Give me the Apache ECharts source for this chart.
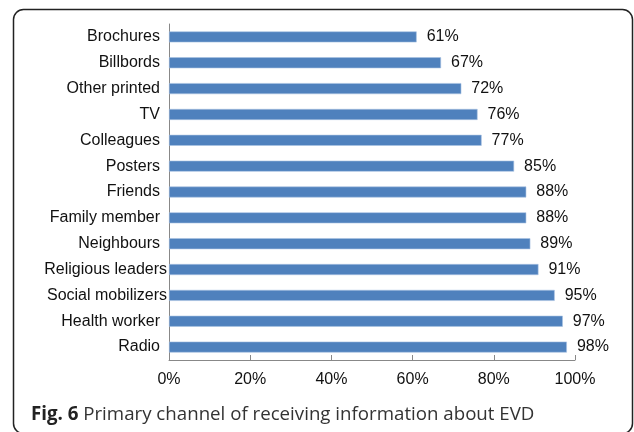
<!DOCTYPE html>
<html>
<head>
<meta charset="utf-8">
<script src="https://cdn.jsdelivr.net/npm/echarts@6/dist/echarts.min.js"></script>
<style>html,body{margin:0;padding:0;background:#fff;}#c{width:634px;height:432px;}</style>
</head>
<body>
<div id="c"></div>
<script>
const categories = ['Brochures','Billbords','Other printed','TV','Colleagues','Posters','Friends','Family member','Neighbours','Religious leaders','Social mobilizers','Health worker','Radio'];
const values = [61,67,72,76,77,85,88,88,89,91,95,97,98];
const xTicks = [0,20,40,60,80,100];
const longLabels = ['Religious leaders','Social mobilizers'];

const chart = echarts.init(document.getElementById('c'), null, {renderer:'canvas'});
chart.setOption({
  backgroundColor:'#fff',
  animation:false,
  grid:{left:169,right:59,top:24,bottom:72,containLabel:false},
  xAxis:{
    type:'value', min:xTicks[0], max:xTicks[xTicks.length-1], interval:xTicks[1]-xTicks[0],
    axisLine:{show:true,lineStyle:{color:'#888',width:1}},
    axisTick:{show:true,inside:true,length:5,lineStyle:{color:'#888'}},
    splitLine:{show:false},
    axisLabel:{formatter:'{value}%',color:'#111',fontFamily:'Liberation Sans',fontSize:16,margin:12}
  },
  yAxis:{
    type:'category', data:categories, inverse:true,
    axisLine:{show:true,lineStyle:{color:'#888',width:1}},
    axisTick:{show:false},
    axisLabel:{
      color:'#111',fontFamily:'Liberation Sans',fontSize:16,margin:2,
      formatter:function(v){return longLabels.indexOf(v)>=0 ? '{l|'+v+'}' : '{s|'+v+'}';},
      rich:{
        l:{color:'#111',fontFamily:'Liberation Sans',fontSize:16,padding:[0,0,0,0]},
        s:{color:'#111',fontFamily:'Liberation Sans',fontSize:16,padding:[0,7,0,0]}
      }
    }
  },
  series:[{
    type:'bar', data:values, barWidth:11,
    itemStyle:{color:'#4f81bd',borderColor:'#a9c2e2',borderWidth:0.6},
    label:{show:true,position:'right',distance:10,formatter:'{c}%',color:'#111',fontFamily:'Liberation Sans',fontSize:16}
  }],
  graphic:[
    {type:'rect',shape:{x:13.5,y:9.5,width:619,height:424,r:10},style:{fill:'none',stroke:'#222',lineWidth:1.5},z:-1},
    {type:'text',x:31,y:414.5,style:{text:'{b|Fig. 6} Primary channel of receiving information about EVD',verticalAlign:'middle',rich:{b:{fontWeight:'bold',fontFamily:'Open Sans',fontSize:18.7,fill:'#222'}},fontFamily:'Open Sans',fontSize:18.7,fill:'#333'}}
  ]
});
</script>
</body>
</html>
